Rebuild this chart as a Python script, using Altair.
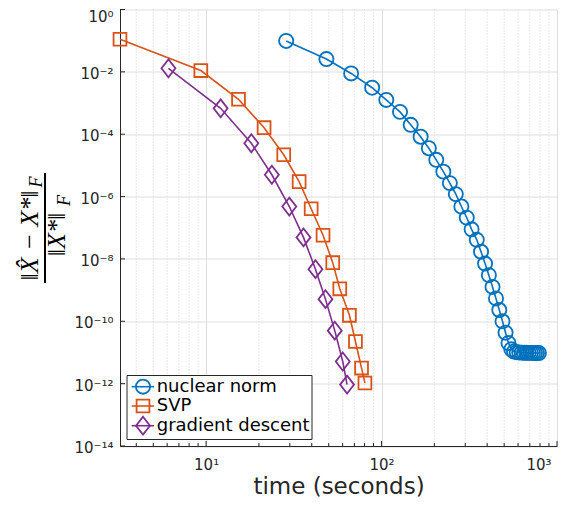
import altair as alt
import pandas as pd

# ---------------- data ----------------
series_names = ["nuclear norm", "SVP", "gradient descent"]
series_colors = ["#0072BD", "#D95319", "#7E2F8E"]

nuc_time = [28.6, 48.5, 67.1, 88.4, 106.4, 127.4, 146.6, 167, 186, 205, 225, 245,
            265, 285, 306, 326, 349, 369, 389, 409, 429, 449, 469, 489, 509, 529,
            549, 569, 589, 609, 629, 649, 669, 689, 709, 729, 749, 769, 789]
nuc_err = [9.8e-2, 2.57e-2, 8.9e-3, 3.1e-3, 1.26e-3, 5.2e-4, 2.0e-4, 8.3e-5, 3.55e-5,
           1.51e-5, 6.3e-6, 2.7e-6, 1.2e-6, 4.8e-7, 2.1e-7, 8.9e-8, 4.1e-8, 1.7e-8,
           7.1e-9, 3.0e-9, 1.26e-9, 5.4e-10, 2.3e-10, 1.0e-10, 4.3e-11, 2.0e-11,
           1.26e-11, 1.07e-11, 1.02e-11, 1.0e-11, 9.9e-12, 9.8e-12, 9.8e-12, 9.7e-12,
           9.7e-12, 9.7e-12, 9.6e-12, 9.6e-12, 9.6e-12]

svp_time = [3.23, 9.33, 15.3, 21.4, 27.7, 33.9, 39.7, 46.4, 52.7, 57.8, 65.6, 71.0, 76.9, 80.4]
svp_err = [1.11e-1, 1.10e-2, 1.32e-3, 1.62e-4, 2.19e-5, 3.02e-6, 4.07e-7, 5.75e-8,
           7.59e-9, 1.10e-9, 1.55e-10, 2.24e-11, 3.16e-12, 1.05e-12]

gd_time = [6.10, 12.1, 18.1, 23.7, 29.8, 35.9, 42.0, 47.9, 54.1, 60.1, 63.6]
gd_err = [1.30e-2, 6.76e-4, 5.13e-5, 5.01e-6, 4.79e-7, 4.90e-8, 4.68e-9, 5.13e-10,
          5.01e-11, 5.13e-12, 9.33e-13]

x_domain = [3.23, 1000]
y_domain = [1e-14, 1]
x_major = [10, 100, 1000]
x_major_labels = ["10¹", "10²", "10³"]
x_minor = [4, 5, 6, 7, 8, 9, 20, 30, 40, 50, 60, 70, 80, 90,
           200, 300, 400, 500, 600, 700, 800, 900]
y_ticks = [1, 1e-2, 1e-4, 1e-6, 1e-8, 1e-10, 1e-12, 1e-14]
y_tick_labels = ["10⁰", "10⁻²", "10⁻⁴", "10⁻⁶", "10⁻⁸", "10⁻¹⁰", "10⁻¹²", "10⁻¹⁴"]
x_title = "time (seconds)"

# ---------------- layout / style ----------------
W, H = 437, 436.5
AX = "#262626"
FONT = "DejaVu Sans"
shapes = ["circle", "square", "M0,-1L0.78,0L0,1L-0.78,0Z"]
sizes = [200, 165, 320]

xs = alt.Scale(type="log", domain=x_domain, nice=False)
ys = alt.Scale(type="log", domain=y_domain, nice=False)

series_data = [(nuc_time, nuc_err), (svp_time, svp_err), (gd_time, gd_err)]
frames = []
for name, (t, e) in zip(series_names, series_data):
    frames.append(pd.DataFrame({"series": name, "time": t, "err": e}))
df = pd.concat(frames, ignore_index=True)

ylab_expr = "[" + ",".join("'%s'" % s for s in y_tick_labels) + "][round(-log(datum.value)/LN10/2)]"
xlab_expr = "[" + ",".join("'%s'" % s for s in x_major_labels) + "][round(log(datum.value)/LN10)-1]"

x_axis = alt.Axis(values=x_major, labelExpr=xlab_expr, grid=True, ticks=False,
                  labelPadding=11,
                  labelOffset={"condition": {"test": "datum.value >= 999", "value": -6}, "value": 0},
                  title=x_title, titleY=47.5, titleBaseline="alphabetic",
                  titleFont=FONT, titleFontSize=23, titleFontWeight="normal", titleColor=AX)
y_axis = alt.Axis(values=y_ticks, labelExpr=ylab_expr, grid=True, ticks=False,
                  labelPadding=7,
                  labelOffset={"condition": {"test": "datum.value >= 0.5", "value": 6.5}, "value": 1.5},
                  title=None)


def X(field):
    return alt.X(field, scale=xs, axis=x_axis)


def Y(field):
    return alt.Y(field, scale=ys, axis=y_axis)


# minor grid (dotted)
minor_df = pd.DataFrame({"t": x_minor})
minor_grid = alt.Chart(minor_df).mark_rule(color="#d2d2d2", strokeDash=[1, 2], strokeWidth=1).encode(
    x=X("t:Q")
)
ygrid_df = pd.DataFrame({"v": y_ticks})
y_tick_layer = alt.Chart(ygrid_df).mark_rule(color=AX, strokeWidth=1).encode(
    y=Y("v:Q"), x=alt.value(0), x2=alt.value(5)
)

layers = [minor_grid, y_tick_layer]

for name, col, shp, sz in zip(series_names, series_colors, shapes, sizes):
    base = alt.Chart(df).transform_filter(alt.datum.series == name)
    line = base.mark_line(color=col, strokeWidth=1.6).encode(x=X("time:Q"), y=Y("err:Q"))
    pts = base.mark_point(color=col, shape=shp, size=sz, filled=False, strokeWidth=1.8,
                          opacity=1).encode(x=X("time:Q"), y=Y("err:Q"))
    layers += [line, pts]

# inward x ticks
xmaj_df = pd.DataFrame({"t": x_major})
xmin_df = pd.DataFrame({"t": x_minor})
layers.append(alt.Chart(xmaj_df).mark_rule(color=AX).encode(
    x=X("t:Q"), y=alt.value(H), y2=alt.value(H - 5)))
layers.append(alt.Chart(xmin_df).mark_rule(color=AX).encode(
    x=X("t:Q"), y=alt.value(H), y2=alt.value(H - 3)))

# legend
dummy = pd.DataFrame({"d": [0]})
layers.append(alt.Chart(dummy).mark_rect(fill="white", stroke=AX, strokeWidth=1).encode(
    x=alt.value(7), x2=alt.value(192), y=alt.value(366), y2=alt.value(430)))
row_y = [377.2, 396.5, 416.2]
for name, col, shp, sz, ry in zip(series_names, series_colors, shapes, sizes, row_y):
    layers.append(alt.Chart(dummy).mark_rule(color=col, strokeWidth=1.6).encode(
        x=alt.value(11.7), x2=alt.value(34), y=alt.value(ry)))
    layers.append(alt.Chart(dummy).mark_point(color=col, shape=shp, size=sz, filled=False,
                                              strokeWidth=1.8, opacity=1).encode(
        x=alt.value(23), y=alt.value(ry)))
    layers.append(alt.Chart(dummy).mark_text(text=name, align="left", baseline="middle",
                                             font=FONT, fontSize=18, color="black").encode(
        x=alt.value(36.7), y=alt.value(ry)))

# y-axis label as a fraction
SERIF = "Liberation Serif"
layers.append(alt.Chart(dummy).mark_rule(color="black", strokeWidth=2).encode(
    x=alt.value(-75), y=alt.value(163.5), y2=alt.value(273.5)))
layers.append(alt.Chart(dummy).mark_text(text="‖X\u0302 − X*‖", angle=270, align="center",
                                         baseline="alphabetic", font=SERIF, fontStyle="italic",
                                         fontSize=26, color="black").encode(
    x=alt.value(-82), y=alt.value(226)))
layers.append(alt.Chart(dummy).mark_text(text="F", angle=270, align="center",
                                         baseline="alphabetic", font=SERIF, fontStyle="italic",
                                         fontSize=18, color="black").encode(
    x=alt.value(-78), y=alt.value(172.5)))
layers.append(alt.Chart(dummy).mark_text(text="‖X*‖", angle=270, align="center",
                                         baseline="alphabetic", font=SERIF, fontStyle="italic",
                                         fontSize=26, color="black").encode(
    x=alt.value(-55), y=alt.value(225)))
layers.append(alt.Chart(dummy).mark_text(text="F", angle=270, align="center",
                                         baseline="alphabetic", font=SERIF, fontStyle="italic",
                                         fontSize=18, color="black").encode(
    x=alt.value(-50), y=alt.value(191)))

chart = alt.layer(*layers).properties(
    width=W, height=H,
    autosize=alt.AutoSizeParams(type="none"),
    padding={"left": 112, "top": 1.5, "right": 6, "bottom": 53},
).configure_view(stroke=None).configure_axis(
    domainColor=AX, domainWidth=1, labelFont=FONT, labelFontSize=15, labelColor=AX,
    gridColor="#dedede", gridWidth=1,
)

chart.save("out.html", embed_options={"renderer": "svg", "actions": False})
